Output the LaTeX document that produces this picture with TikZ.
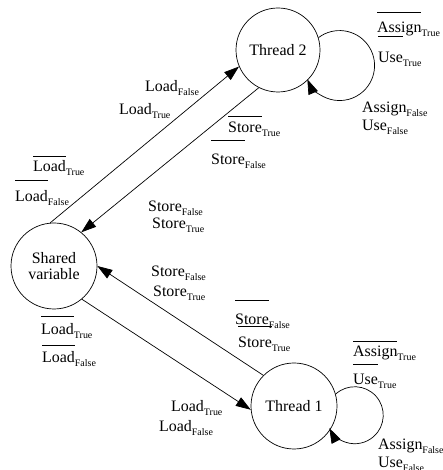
\documentclass[tikz,border=0pt]{standalone}
\usepackage{fontspec}
\setmainfont{Liberation Serif}
\usetikzlibrary{arrows.meta}
\newcommand\ovl[2]{\setbox0\hbox{#2}\rlap{\rule[#1pt]{\wd0}{0.7pt}}\box0}
\newcommand\lab[2]{#1\raisebox{-4pt}{\fontsize{10}{10}\selectfont #2}}
\begin{document}
\begin{tikzpicture}[x=1bp,y=1bp,
  state/.style={circle,draw,line width=0.7pt,inner sep=0pt,align=center,font=\fontsize{16}{16}\selectfont},
  edge/.style={line width=0.7pt,-{Triangle[length=15bp,width=10bp]}},
  lbl/.style={anchor=base west,inner sep=0pt,font=\fontsize{16}{18}\selectfont}]
\useasboundingbox (0,0) rectangle (443,470);
\node[state,minimum size=84bp] (t2) at (278,420) {Thread 2};
\node[state,minimum size=86bp] (sh) at (54,204) {Shared\\variable};
\node[state,minimum size=86bp] (t1) at (294,64) {Thread 1};
% connectors
\draw[edge] (sh.95) -- (t2.203);
\draw[edge] (t2.243) -- (sh.51);
\draw[edge] (t1.135) -- (sh.0);
\draw[edge] (sh.-50) -- (t1.185);
\draw[edge] (t2.17) arc[start angle=127,end angle=-157,radius=35];
\draw[edge] (t1.16) arc[start angle=132,end angle=-153,radius=28.5];
% labels, top
\node[lbl] (l1) at (145,378) {\lab{Load}{False}};
\node[lbl] (l2) at (119,355) {\lab{Load}{True}};
\node[lbl] (l3) at (33,298) {\lab{\ovl{15}{Load}}{True}};
\node[lbl] (l4) at (15,268) {\lab{\ovl{21}{Load}}{False}};
\node[lbl] (l5) at (148,258) {\lab{Store}{False}};
\node[lbl] (l6) at (152,241) {\lab{Store}{True}};
\node[lbl] (l7) at (228,337) {\lab{\ovl{16}{Store}}{True}};
\node[lbl] (l8) at (211,305) {\lab{\ovl{24}{Store}}{False}};
\node[lbl] (l9) at (377,437) {\lab{\ovl{20}{Assign}}{True}};
\node[lbl] (l10) at (378,407) {\lab{\ovl{26}{Use}}{True}};
\node[lbl] (l11) at (362,357) {\lab{Assign}{False}};
\node[lbl] (l12) at (362,339) {\lab{Use}{False}};
% labels, bottom
\node[lbl] (l13) at (151,193) {\lab{Store}{False}};
\node[lbl] (l14) at (153,173) {\lab{Store}{True}};
\node[lbl] (l15) at (235,145) {\lab{\ovl{24}{Store}}{False}};
\node[lbl] (l16) at (238,122) {\lab{\ovl{21}{Store}}{True}};
\node[lbl] (l17) at (41,135) {\lab{\ovl{18}{Load}}{True}};
\node[lbl] (l18) at (42,107) {\lab{\ovl{17}{Load}}{False}};
\node[lbl] (l19) at (171,58) {\lab{Load}{True}};
\node[lbl] (l20) at (159,38) {\lab{Load}{False}};
\node[lbl] (l21) at (353,113) {\lab{\ovl{15}{Assign}}{True}};
\node[lbl] (l22) at (353,85) {\lab{\ovl{20}{Use}}{True}};
\node[lbl] (l23) at (378,20) {\lab{Assign}{False}};
\node[lbl] (l24) at (378,2) {\lab{Use}{False}};
\end{tikzpicture}
\end{document}
